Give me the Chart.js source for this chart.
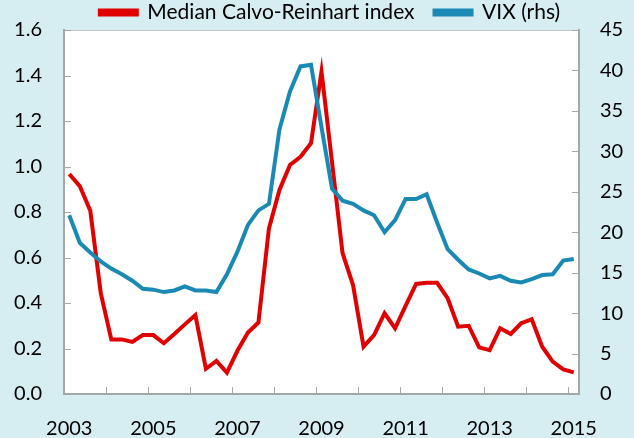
<!DOCTYPE html>
<html>
<head>
<meta charset="utf-8">
<script src="https://cdn.jsdelivr.net/npm/chart.js@4.4.1/dist/chart.umd.min.js"></script>
<style>
  html, body { margin: 0; padding: 0; background: #d6edf2; }
</style>
</head>
<body>
<canvas id="grafico" width="634" height="438"></canvas>
<script>
// Datos trimestrales 2003T1 - 2015T1
const anios = [2003, 2004, 2005, 2006, 2007, 2008, 2009, 2010, 2011, 2012, 2013, 2014, 2015];
const trimestres = ['T1', 'T2', 'T3', 'T4'];
const etiquetasEje = ['2003', '2005', '2007', '2009', '2011', '2013', '2015'];

const calvoReinhart = [
    0.967, 0.914, 0.806, 0.443, 0.240, 0.240, 0.229, 0.259,
    0.259, 0.223, 0.264, 0.306, 0.347, 0.111, 0.145, 0.094,
    0.190, 0.270, 0.314, 0.728, 0.897, 1.007, 1.043, 1.102,
    1.417, 1.020, 0.620, 0.479, 0.208, 0.259, 0.355, 0.289,
    0.387, 0.484, 0.489, 0.489, 0.421, 0.296, 0.300, 0.205,
    0.193, 0.289, 0.264, 0.311, 0.328, 0.208, 0.142, 0.108,
    0.095
];

const vix = [
    22.1, 18.7, 17.5, 16.4, 15.5, 14.8, 14.0, 13.0,
    12.9, 12.6, 12.8, 13.3, 12.8, 12.8, 12.6, 14.8,
    17.6, 20.9, 22.7, 23.5, 32.7, 37.4, 40.5, 40.7,
    33.0, 25.4, 23.9, 23.5, 22.7, 22.1, 20.0, 21.5,
    24.1, 24.1, 24.7, 21.2, 17.9, 16.6, 15.4, 14.9,
    14.3, 14.6, 14.0, 13.8, 14.2, 14.7, 14.8, 16.5,
    16.7
];

// Etiquetas de categoría (un trimestre por punto)
const categorias = [];
anios.forEach(a => trimestres.forEach(t => {
    if (categorias.length < calvoReinhart.length) categorias.push(a + t);
}));

const gris = '#a6a6a6';
const fuente = { family: 'Lato, "Open Sans", sans-serif', size: 20 };
const fuenteLeyenda = { family: 'Lato, "Open Sans", sans-serif', size: 21 };

// Fondo celeste y área de trazado blanca
const fondoPlugin = {
    id: 'fondo',
    beforeDraw(chart) {
        const { ctx, chartArea: a } = chart;
        ctx.save();
        ctx.fillStyle = '#d6edf2';
        ctx.fillRect(0, 0, chart.width, chart.height);
        ctx.fillStyle = '#ffffff';
        ctx.fillRect(a.left, a.top, a.right - a.left, a.bottom - a.top);
        ctx.strokeStyle = '#c4c4c4';
        ctx.lineWidth = 1;
        ctx.beginPath();
        ctx.moveTo(a.left, a.top + 0.5);
        ctx.lineTo(a.right, a.top + 0.5);
        ctx.stroke();
        ctx.restore();
    }
};

// Marcas de los ejes verticales hacia dentro del área
const marcasPlugin = {
    id: 'marcas',
    afterDraw(chart) {
        const { ctx } = chart;
        ctx.save();
        ctx.strokeStyle = gris;
        ctx.lineWidth = 1;
        ['y', 'y1'].forEach(id => {
            const s = chart.scales[id];
            const x0 = id === 'y' ? s.right : s.left;
            const dir = id === 'y' ? 1 : -1;
            s.ticks.forEach((t, i) => {
                const py = Math.round(s.getPixelForTick(i)) + 0.5;
                ctx.beginPath();
                ctx.moveTo(x0, py);
                ctx.lineTo(x0 + dir * 7, py);
                ctx.stroke();
            });
        });
        ctx.restore();
    }
};

new Chart(document.getElementById('grafico'), {
    type: 'line',
    data: {
        labels: categorias,
        datasets: [{
            label: 'Median Calvo-Reinhart index',
            data: calvoReinhart,
            borderColor: '#e00000',
            backgroundColor: '#e00000',
            borderWidth: 4,
            pointRadius: 0,
            tension: 0,
            yAxisID: 'y',
            order: 2
        }, {
            label: 'VIX (rhs)',
            data: vix,
            borderColor: '#1a8ab5',
            backgroundColor: '#1a8ab5',
            borderWidth: 4,
            pointRadius: 0,
            tension: 0,
            yAxisID: 'y1',
            order: 1
        }]
    },
    options: {
        responsive: false,
        animation: false,
        devicePixelRatio: 1,
        layout: { padding: { top: -18, left: 6, right: -20, bottom: 0 } },
        plugins: {
            legend: {
                display: true,
                position: 'top',
                maxHeight: 48,
                labels: {
                    boxWidth: 37,
                    boxHeight: 4,
                    padding: 20,
                    color: '#000',
                    font: fuenteLeyenda,
                    sort: (a, b) => a.datasetIndex - b.datasetIndex
                }
            },
            tooltip: { enabled: false }
        },
        scales: {
            x: {
                offset: true,
                grid: {
                    offset: true,
                    drawOnChartArea: false,
                    tickLength: -7,
                    tickColor: ctx => ctx.index % 4 === 0 ? gris : 'rgba(0,0,0,0)'
                },
                border: { color: gris, width: 2 },
                ticks: {
                    autoSkip: false,
                    maxRotation: 0,
                    minRotation: 0,
                    padding: 30,
                    color: '#000',
                    font: fuente,
                    callback: (v, i) => i % 8 === 0 ? etiquetasEje[i / 8] : ''
                },
                afterFit: s => { s.height = 44; }
            },
            y: {
                position: 'left',
                min: 0,
                max: 1.6,
                grid: { drawOnChartArea: false, tickLength: 22, tickColor: 'rgba(0,0,0,0)' },
                border: { color: gris, width: 2 },
                ticks: {
                    stepSize: 0.2,
                    padding: 0,
                    color: '#000',
                    font: fuente,
                    callback: v => v.toFixed(1)
                },
                afterFit: s => { s.width = 58; }
            },
            y1: {
                position: 'right',
                min: 0,
                max: 45,
                grid: { drawOnChartArea: false, tickLength: 21, tickColor: 'rgba(0,0,0,0)' },
                border: { color: gris, width: 2 },
                ticks: {
                    stepSize: 5,
                    padding: 0,
                    color: '#000',
                    font: fuente
                },
                afterFit: s => { s.width = 75; }
            }
        }
    },
    plugins: [fondoPlugin, marcasPlugin]
});
</script>
</body>
</html>
